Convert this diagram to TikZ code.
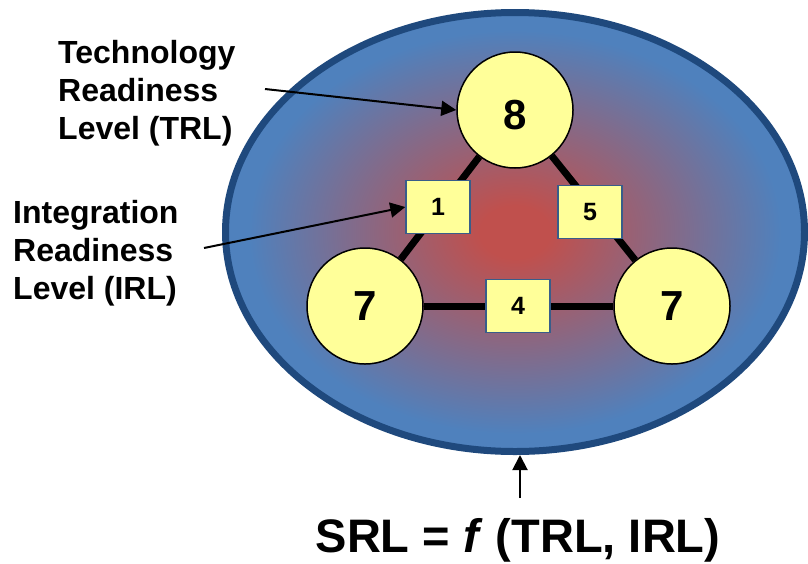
\documentclass[tikz,border=0pt]{standalone}
\usepackage{fontspec}
\setmainfont{Liberation Sans}
\usepackage{tikz}
\usetikzlibrary{arrows.meta, positioning, shapes.geometric}

\definecolor{sysred}{RGB}{192,80,77}
\definecolor{sysblue}{RGB}{79,129,189}
\definecolor{sysrim}{RGB}{31,73,125}
\definecolor{lvlfill}{RGB}{255,255,153}
\definecolor{boxrim}{RGB}{56,93,138}

\pgfdeclareradialshading{srlglow}{\pgfpoint{0bp}{0bp}}{color(0bp)=(sysred); color(3bp)=(sysred); color(23bp)=(sysblue); color(50bp)=(sysblue)}

\begin{document}
\begin{tikzpicture}[x=1pt, y=-1pt,
    trlnode/.style={draw, circle, fill=lvlfill, line width=1.5pt, minimum size=116pt, inner sep=0pt, font=\fontsize{42}{42}\selectfont\bfseries},
    irlbox/.style={draw=boxrim, rectangle, fill=lvlfill, line width=1.5pt, minimum width=64pt, minimum height=53pt, inner sep=0pt, font=\fontsize{25}{25}\selectfont\bfseries},
    irllink/.style={line width=7pt},
    callout/.style={line width=2pt, -{Triangle[length=15pt, width=15pt]}},
    caption/.style={align=left, anchor=north west, inner sep=0pt, font=\fontsize{32}{38.3}\selectfont\bfseries}]

    \useasboundingbox (0,0) rectangle (808,563);

    % System boundary
    \node (srl) [ellipse, draw=sysrim, line width=7pt, shading=srlglow, minimum width=579pt, minimum height=439pt, inner sep=0pt] at (515,232) {};

    % Technologies (TRL)
    \node (trlTop) [trlnode, text height=40pt] at (515,110) {8};
    \node (trlLeft) [trlnode] at (365,306) {7};
    \node (trlRight) [trlnode] at (672,306) {7};

    % Integrations between them
    \draw[irllink] (trlTop) -- (trlLeft);
    \draw[irllink] (trlTop) -- (trlRight);
    \draw[irllink] (trlLeft) -- (trlRight);

    % Nodes for IRL values, on top of the links
    \node (irlLeft) [irlbox] at (438,207) {1};
    \node (irlRight) [irlbox] at (590,212) {5};
    \node (irlBottom) [irlbox] at (518,306) {4};

    % Labels on the left
    \node (trlText) [caption] at (58,40) {Technology\\Readiness\\Level (TRL)};
    \node (irlText) [caption] at (13,200) {Integration\\Readiness\\Level (IRL)};
    \node (srlText) [anchor=base, inner sep=0pt, font=\fontsize{47}{47}\selectfont\bfseries] at (518,552) {SRL = \textit{f} (TRL, IRL)};

    % Free ends of the arrows
    \coordinate (trlTail) at (265,89);
    \coordinate (irlTail) at (204,248);
    \coordinate (srlTail) at (520,498);

    \draw[callout] (trlTail) -- (trlTop.west);
    \draw[callout] (irlTail) -- (irlLeft.west);
    \draw[callout] (srlTail) -- (srlTail |- srl.south);

\end{tikzpicture}
\end{document}
